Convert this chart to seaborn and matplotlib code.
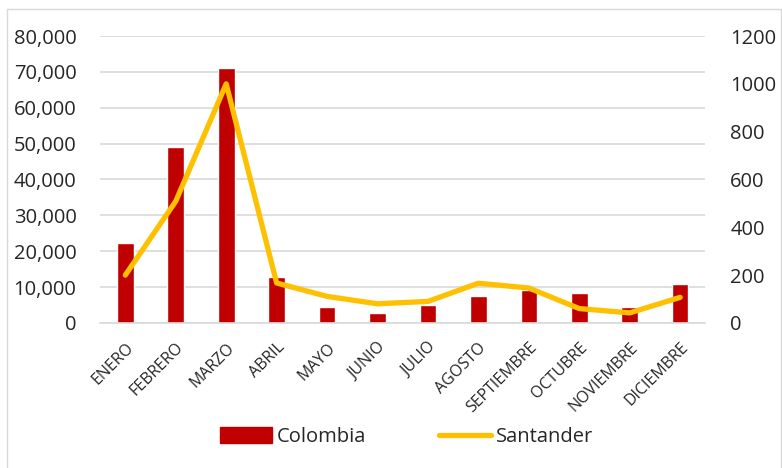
import matplotlib
matplotlib.use("Agg")
import matplotlib.pyplot as plt
import seaborn as sns
import pandas as pd
from matplotlib.patches import Patch
from matplotlib.lines import Line2D

months = ["ENERO", "FEBRERO", "MARZO", "ABRIL", "MAYO", "JUNIO", "JULIO",
          "AGOSTO", "SEPTIEMBRE", "OCTUBRE", "NOVIEMBRE", "DICIEMBRE"]
colombia = [22200, 49000, 71000, 12800, 4500, 2900, 5100, 7400, 9300, 8300, 4300, 10800]
santander = [200, 509, 1000, 167, 111, 80, 90, 166, 146, 60, 42, 107]

df = pd.DataFrame({"mes": months, "Colombia": colombia, "Santander": santander})

sns.set_style("white")
plt.rcParams["font.family"] = ["Open Sans", "DejaVu Sans"]

fig = plt.figure(figsize=(7.82, 4.68), dpi=100)
ax = fig.add_axes([0.128, 0.310, 0.774, 0.613])

sns.barplot(data=df, x="mes", y="Colombia", color="#C00000", width=0.33,
            saturation=1, ax=ax, zorder=2)
ax.set_ylim(0, 80000)
ax.set_yticks(range(0, 80001, 10000))
ax.set_yticklabels([f"{v:,}" for v in range(0, 80001, 10000)], fontsize=14.5)
ax.yaxis.grid(True, color="#D9D9D9", linewidth=1.2, zorder=0)
ax.set_axisbelow(True)
ax.set_xlim(-0.5, 11.5)
ax.set_xlabel("")
ax.set_ylabel("")
ax.tick_params(axis="x", labelsize=11.5, length=0, pad=12)
ax.tick_params(axis="y", length=0, pad=17)
for lab in ax.get_xticklabels():
    lab.set_rotation(45)
    lab.set_ha("right")
    lab.set_rotation_mode("anchor")
for s in ["top", "left", "right"]:
    ax.spines[s].set_visible(False)
ax.spines["bottom"].set_color("#D9D9D9")
ax.spines["bottom"].set_linewidth(1.2)

ax2 = ax.twinx()
sns.lineplot(x=list(range(len(months))), y=santander, color="#FFC000",
             linewidth=3.8, ax=ax2, solid_capstyle="round")
ax2.set_ylim(0, 1200)
ax2.set_yticks(range(0, 1201, 200))
ax2.tick_params(axis="y", labelsize=14.5, length=0, pad=18)
ax2.set_xlim(-0.5, 11.5)
for s in ["top", "left", "right", "bottom"]:
    ax2.spines[s].set_visible(False)

handles = [Patch(color="#C00000", label="Colombia"),
           Line2D([0], [0], color="#FFC000", linewidth=3.8,
                  solid_capstyle="round", label="Santander")]
fig.legend(handles=handles, loc="center", bbox_to_anchor=(0.52, 0.066), ncol=2,
           frameon=False, fontsize=14.5, columnspacing=3.6, handlelength=2.6,
           handleheight=0.8, handletextpad=0.25)

fig.patches.append(plt.Rectangle((7 / 782, -0.01), 774 / 782, 1 - 9 / 468 + 0.01,
                                 transform=fig.transFigure, fill=False,
                                 edgecolor="#D9D9D9", linewidth=1))

fig.savefig("out.png", dpi=100)
